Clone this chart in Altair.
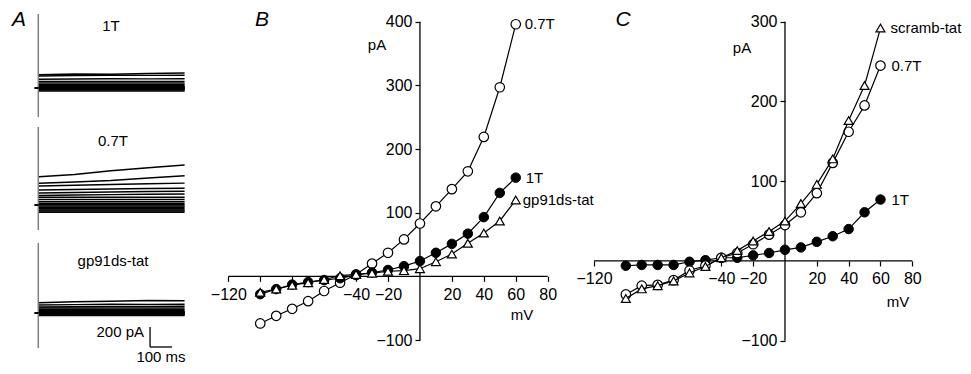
import altair as alt
import pandas as pd

FONT = "Liberation Sans"

# ---------------- data ----------------
VOLTS = [-100, -90, -80, -70, -60, -50, -40, -30, -20, -10, 0, 10, 20, 30, 40, 50, 60]

# Panel B (pA)
B_07T = [-74, -62, -51, -39, -23, -10, 3, 20, 37, 58, 83, 110, 137, 165, 219, 297, 396]
B_1T = [-28, -20, -13, -9, -6, -3, 2, 6, 10, 16, 24, 37, 51, 67, 93, 131, 155]
B_GP91 = [-25, -20, -14, -10, -5, 1, 3, 5, 8, 9, 12, 23, 35, 52, 68, 87, 120]

# Panel C (pA)
C_1T = [-6, -5, -5, -5, -1, 1, 4, 4, 7, 10, 14, 17, 24, 31, 40, 61, 77]
C_07T = [-42, -31, -30, -24, -12, -6, 4, 10, 21, 33, 45, 61, 85, 123, 162, 195, 245]
C_SCR = [-47, -35, -31, -25, -15, -7, 4, 13, 25, 37, 50, 72, 96, 128, 176, 220, 292]

# Panel A current traces: times (ms) at which each trace was read; a single
# number means the trace stays at that level over the whole step.
A_TIMES = [3, 165, 330, 500, 665]
A_1T = [-30, -20, -13, -9, -6, -3, 2, 6, 13, 16, 25, 37, 51, 66,
        [88, 90, 92, 91, 92], [120, 125, 128, 126, 128], [132, 140, 138, 145, 150]]
A_07T = [-72, -60, -50, -38, -22, -10, 3, 18, 35, 56, 78,
         [95, 100, 104, 107, 110], [120, 125, 130, 135, 137], [150, 155, 160, 165, 167],
         [190, 198, 205, 212, 219], [217, 230, 245, 270, 292], [283, 305, 343, 373, 400]]
A_GP91 = [-25, -20, -14, -10, -5, 1, 3, 5, 7, 8, 12, 23, 35, 50,
          [60, 63, 66, 66, 68], [80, 84, 88, 86, 87], [103, 112, 118, 125, 122]]
A_NAMES = ["1T", "0.7T", "gp91ds-tat"]
A_TRANSIENT = [(-290, 740), (-250, 780), (-350, 700)]
SCALE_PA = 200
SCALE_MS = 100

NOVIEW = alt.ViewBackground(stroke="transparent", strokeWidth=0)

# ---------------- panel A ----------------
WA, HA = 192, 358
xA = alt.Scale(domain=[-137.7, 735], nice=False, zero=False)
A_YDOMS = [[-2780, 800], [-1610, 1970], [-530, 3050]]


def family(traces, ydom, trans, extra=None):
    rows = []
    for i, tr in enumerate(traces):
        vals = tr if isinstance(tr, list) else [tr] * len(A_TIMES)
        for t, v in zip(A_TIMES, vals):
            rows.append({"trace": i, "t": t, "pA": v})
    ys = alt.Scale(domain=ydom, nice=False, zero=False)
    lines = alt.Chart(pd.DataFrame(rows)).mark_line(color="black", strokeWidth=1.4).encode(
        x=alt.X("t:Q", scale=xA, axis=None),
        y=alt.Y("pA:Q", scale=ys, axis=None),
        detail="trace:N")
    tr_df = pd.DataFrame([{"t": 0, "lo": trans[0], "hi": trans[1]}])
    transient = alt.Chart(tr_df).mark_rule(color="#808080", strokeWidth=1.5).encode(
        x=alt.X("t:Q", scale=xA, axis=None),
        y=alt.Y("lo:Q", scale=ys, axis=None), y2="hi:Q")
    hold_df = pd.DataFrame([{"t0": -18, "t1": 2, "pA": 0}])
    hold = alt.Chart(hold_df).mark_rule(color="black", strokeWidth=2).encode(
        x=alt.X("t0:Q", scale=xA, axis=None), x2="t1:Q",
        y=alt.Y("pA:Q", scale=ys, axis=None))
    layers = [transient, lines, hold]
    if extra is not None:
        sb_t, sb_i = extra
        v_df = pd.DataFrame([{"t": sb_t, "lo": sb_i, "hi": sb_i + SCALE_PA}])
        h_df = pd.DataFrame([{"t0": sb_t, "t1": sb_t + SCALE_MS, "pA": sb_i}])
        layers.append(alt.Chart(v_df).mark_rule(color="black", strokeWidth=1.3).encode(
            x=alt.X("t:Q", scale=xA, axis=None),
            y=alt.Y("lo:Q", scale=ys, axis=None), y2="hi:Q"))
        layers.append(alt.Chart(h_df).mark_rule(color="black", strokeWidth=1.3).encode(
            x=alt.X("t0:Q", scale=xA, axis=None), x2="t1:Q",
            y=alt.Y("pA:Q", scale=ys, axis=None)))
    return alt.layer(*layers)


famA = [family(A_1T, A_YDOMS[0], A_TRANSIENT[0]),
        family(A_07T, A_YDOMS[1], A_TRANSIENT[1]),
        family(A_GP91, A_YDOMS[2], A_TRANSIENT[2], extra=(508, -340))]

textA = pd.DataFrame([
    {"txt": A_NAMES[0], "px": 103, "py": 18},
    {"txt": A_NAMES[1], "px": 105, "py": 133},
    {"txt": A_NAMES[2], "px": 105, "py": 253},
])
labA = alt.Chart(textA).mark_text(font=FONT, fontSize=15, color="black").encode(
    x=alt.X("px:Q", scale=None), y=alt.Y("py:Q", scale=None), text="txt:N")
letterA = alt.Chart(pd.DataFrame([{"txt": "A"}])).mark_text(
    font=FONT, fontSize=21, fontStyle="italic", color="black").encode(
    x=alt.value(11), y=alt.value(12), text="txt:N")
sbA1 = alt.Chart(pd.DataFrame([{"txt": f"{SCALE_PA} pA"}])).mark_text(
    font=FONT, fontSize=15, align="right", color="black").encode(
    x=alt.value(136), y=alt.value(324), text="txt:N")
sbA2 = alt.Chart(pd.DataFrame([{"txt": f"{SCALE_MS} ms"}])).mark_text(
    font=FONT, fontSize=15, align="center", color="black").encode(
    x=alt.value(153), y=alt.value(349), text="txt:N")

panelA = alt.layer(*famA, labA, letterA, sbA1, sbA2).resolve_scale(y="independent").properties(
    width=WA, height=HA, view=NOVIEW)

# ---------------- I-V panels ----------------
XTICKS = [-120, -100, -80, -60, -40, -20, 20, 40, 60, 80]
HIDE = "datum.value == -100 || datum.value == -80 || datum.value == -60 ? '' : datum.label"


def iv_panel(series, W, H, xdom, ydom, xoff, yoff, yticks, ymax, letter, letter_x, pa_xy, mv_xy):
    xs = alt.Scale(domain=xdom, nice=False, zero=False)
    ys = alt.Scale(domain=ydom, nice=False, zero=False)
    xaxis = alt.Axis(values=XTICKS, labelExpr=HIDE, offset=xoff, domain=False, grid=False,
                     ticks=True, tickSize=5, tickColor="black", tickWidth=1.2,
                     labelFont=FONT, labelFontSize=16, labelColor="black", labelPadding=5,
                     labelOverlap=False, title=None, orient="bottom")
    yaxis = alt.Axis(values=yticks, offset=yoff, domain=False, grid=False,
                     ticks=True, tickSize=5, tickColor="black", tickWidth=1.2,
                     labelFont=FONT, labelFontSize=16, labelColor="black", labelPadding=3,
                     labelOverlap=False, title=None, orient="left")
    layers = []
    xl = pd.DataFrame([{"a": -120, "b": 80, "y": 0}])
    layers.append(alt.Chart(xl).mark_rule(color="black", strokeWidth=1.3).encode(
        x=alt.X("a:Q", scale=xs, axis=xaxis), x2="b:Q",
        y=alt.Y("y:Q", scale=ys, axis=yaxis)))
    yl = pd.DataFrame([{"x": 0, "a": -100, "b": ymax}])
    layers.append(alt.Chart(yl).mark_rule(color="black", strokeWidth=1.3).encode(
        x=alt.X("x:Q", scale=xs, axis=xaxis),
        y=alt.Y("a:Q", scale=ys, axis=yaxis), y2="b:Q"))
    for name, vals, style, dx in series:
        df = pd.DataFrame({"mV": VOLTS, "pA": vals})
        enc = dict(x=alt.X("mV:Q", scale=xs, axis=xaxis), y=alt.Y("pA:Q", scale=ys, axis=yaxis))
        layers.append(alt.Chart(df).mark_line(color="black", strokeWidth=1.2).encode(**enc))
        if style == "open":
            pt = alt.Chart(df).mark_point(shape="circle", filled=True, fill="white", stroke="black",
                                          strokeWidth=1.2, size=90, opacity=1)
        elif style == "filled":
            pt = alt.Chart(df).mark_point(shape="circle", filled=True, fill="black", stroke="black",
                                          strokeWidth=1, size=90, opacity=1)
        else:
            pt = alt.Chart(df).mark_point(shape="triangle-up", filled=True, fill="white", stroke="black",
                                          strokeWidth=1.2, size=80, opacity=1)
        layers.append(pt.encode(**enc))
        last = pd.DataFrame([{"mV": VOLTS[-1], "pA": vals[-1], "name": name}])
        layers.append(alt.Chart(last).mark_text(font=FONT, fontSize=15, align="left",
                                                baseline="middle", dx=dx, color="black").encode(
            x=alt.X("mV:Q", scale=xs, axis=xaxis), y=alt.Y("pA:Q", scale=ys, axis=yaxis), text="name:N"))
    layers.append(alt.Chart(pd.DataFrame([{"txt": letter}])).mark_text(
        font=FONT, fontSize=21, fontStyle="italic", color="black").encode(
        x=alt.value(letter_x), y=alt.value(12), text="txt:N"))
    layers.append(alt.Chart(pd.DataFrame([{"txt": "pA"}])).mark_text(
        font=FONT, fontSize=15, color="black").encode(
        x=alt.value(pa_xy[0]), y=alt.value(pa_xy[1]), text="txt:N"))
    layers.append(alt.Chart(pd.DataFrame([{"txt": "mV"}])).mark_text(
        font=FONT, fontSize=15, color="black").encode(
        x=alt.value(mv_xy[0]), y=alt.value(mv_xy[1]), text="txt:N"))
    return alt.layer(*layers).properties(width=W, height=H, view=NOVIEW)


panelB = iv_panel(
    [("0.7T", B_07T, "open", 9), ("1T", B_1T, "filled", 10), ("gp91ds-tat", B_GP91, "tri", 7)],
    380, 358, [-137.72, 100.23], [-140.84, 421.52], -89.7, -220,
    [-100, 100, 200, 300, 400], 400, "B", 62, (177, 37), (322, 307))

panelC = iv_panel(
    [("1T", C_1T, "filled", 11), ("0.7T", C_07T, "open", 11), ("scramb-tat", C_SCR, "tri", 10)],
    383, 358, [-128.80, 111.85], [-131.7, 317.18], -105.05, -205,
    [-100, 100, 200, 300], 300, "C", 43, (162, 40), (318, 294))

chart = alt.hconcat(panelA, panelB, panelC, spacing=0, bounds="flush", padding=0,
                    background="white").configure_view(stroke="transparent", strokeWidth=0)

chart.save("out.html", embed_options={"renderer": "svg", "actions": False})
